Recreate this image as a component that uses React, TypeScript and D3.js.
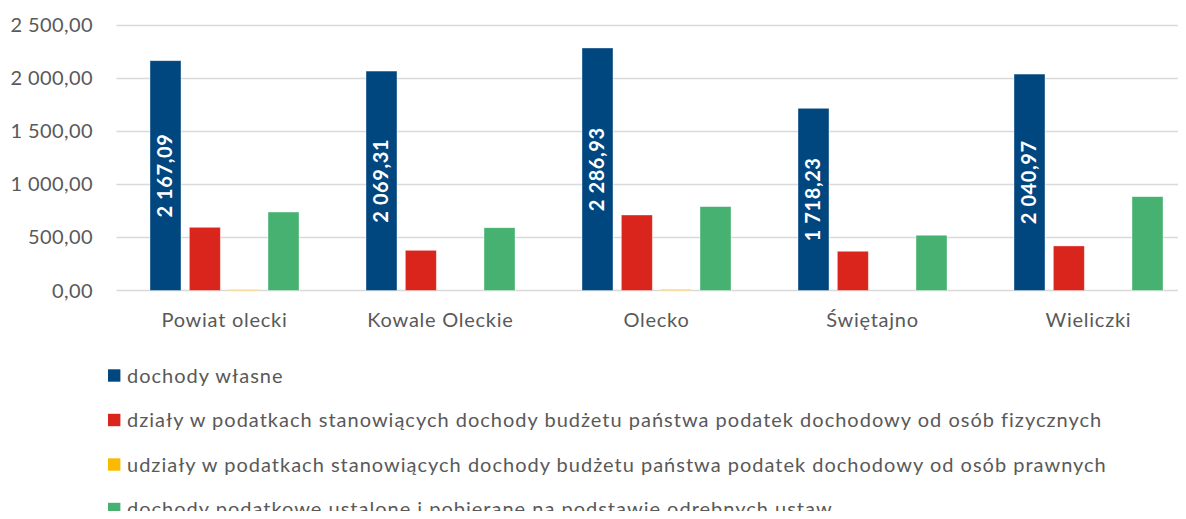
import React, { useRef, useEffect } from "react";
import * as d3 from "d3";

const categories = ["Powiat olecki", "Kowale Oleckie", "Olecko", "Świętajno", "Wieliczki"];
const seriesNames = [
  "dochody własne",
  "działy w podatkach stanowiących dochody budżetu państwa podatek dochodowy od osób fizycznych",
  "udziały w podatkach stanowiących dochody budżetu państwa podatek dochodowy od osób prawnych",
  "dochody podatkowe ustalone i pobierane na podstawie odrębnych ustaw",
];
const seriesColors = ["#00467f", "#da251d", "#fbb900", "#46b170"];
const dochodyWlasne = [2167.09, 2069.31, 2286.93, 1718.23, 2040.97];
const pitUdzialy = [596, 379, 712, 370, 420];
const citUdzialy = [8, 0, 10, 0, 0];
const odrebneUstawy = [740, 592, 791, 521, 885];
const yTicks = [0, 500, 1000, 1500, 2000, 2500];

const fmt = (v: number) => {
  const s = v.toFixed(2).replace(".", ",");
  const [i, d] = s.split(",");
  return i.replace(/\B(?=(\d{3})+(?!\d))/g, " ") + "," + d;
};

const App: React.FC = () => {
  const svgRef = useRef<SVGSVGElement | null>(null);

  useEffect(() => {
    const svg = d3.select(svgRef.current);
    svg.selectAll("*").remove();

    const W = 1186;
    const H = 519;
    const font = "Lato, 'Open Sans', sans-serif";
    const textColor = "#595959";
    svg.attr("width", W).attr("height", H);

    const values = [dochodyWlasne, pitUdzialy, citUdzialy, odrebneUstawy];

    // plot area runs past the right edge of the picture (cropped in the original)
    const plotLeft = 116.5;
    const plotRight = 1196.5;

    const x0 = d3.scaleBand().domain(categories).range([plotLeft, plotRight]);
    const x1 = d3
      .scaleBand()
      .domain(d3.range(4).map(String))
      .range([33.5, 216 - 33.5])
      .paddingInner(0.212);
    const y = d3.scaleLinear().domain([0, 2500]).range([290.5, 25.4]);

    // grid
    svg
      .append("g")
      .selectAll("line")
      .data(yTicks)
      .enter()
      .append("line")
      .attr("x1", plotLeft)
      .attr("x2", plotRight)
      .attr("y1", (d) => y(d))
      .attr("y2", (d) => y(d))
      .attr("stroke", "#d9d9d9")
      .attr("stroke-width", 1.5);

    // y labels
    svg
      .append("g")
      .selectAll("text")
      .data(yTicks)
      .enter()
      .append("text")
      .attr("x", 93)
      .attr("y", (d) => y(d))
      .attr("dy", "0.35em")
      .attr("text-anchor", "end")
      .attr("font-family", font)
      .attr("font-size", 20)
      .attr("letter-spacing", 0.4)
      .attr("fill", textColor)
      .text((d) => fmt(d));

    // bars
    const groups = svg
      .append("g")
      .selectAll("g")
      .data(categories)
      .enter()
      .append("g")
      .attr("transform", (d) => `translate(${x0(d)},0)`);

    groups.each(function (cat, ci) {
      const g = d3.select(this);
      values.forEach((arr, si) => {
        const v = arr[ci];
        if (v <= 0) return;
        g.append("rect")
          .attr("x", x1(String(si))!)
          .attr("width", x1.bandwidth())
          .attr("y", y(v))
          .attr("height", y(0) - y(v))
          .attr("fill", seriesColors[si])
          .attr("stroke", "#ffffff")
          .attr("stroke-opacity", 0.5)
          .attr("stroke-width", 0.75);
      });
      const v = dochodyWlasne[ci];
      const cx = x1("0")! + x1.bandwidth() / 2;
      const cy = (y(v) + y(0)) / 2;
      g.append("text")
        .attr("transform", `translate(${cx},${cy}) rotate(-90)`)
        .attr("text-anchor", "middle")
        .attr("dy", "0.35em")
        .attr("font-family", font)
        .attr("font-weight", "bold")
        .attr("font-size", 20)
        .attr("letter-spacing", 0.6)
        .attr("fill", "#ffffff")
        .text(fmt(v));
    });

    // x labels
    svg
      .append("g")
      .selectAll("text")
      .data(categories)
      .enter()
      .append("text")
      .attr("x", (d) => x0(d)! + x0.bandwidth() / 2)
      .attr("y", 327)
      .attr("text-anchor", "middle")
      .attr("font-family", font)
      .attr("font-size", 20)
      .attr("letter-spacing", 0.75)
      .attr("fill", textColor)
      .text((d) => d);

    // legend
    const legend = svg
      .append("g")
      .selectAll("g")
      .data(seriesNames)
      .enter()
      .append("g")
      .attr("transform", (d, i) => `translate(108,${375.5 + i * 44.5})`);
    legend
      .append("rect")
      .attr("x", 0)
      .attr("y", -6.2)
      .attr("width", 12.4)
      .attr("height", 12.4)
      .attr("fill", (d, i) => seriesColors[i]);
    legend
      .append("text")
      .attr("x", 19)
      .attr("dy", "0.35em")
      .attr("font-family", font)
      .attr("font-size", 20)
      .attr("letter-spacing", 1)
      .attr("fill", textColor)
      .text((d) => d);
  }, []);

  return (
    <div style={{ margin: -8, overflow: "hidden" }}>
      <svg ref={svgRef} style={{ display: "block" }} />
    </div>
  );
};

export default App;
